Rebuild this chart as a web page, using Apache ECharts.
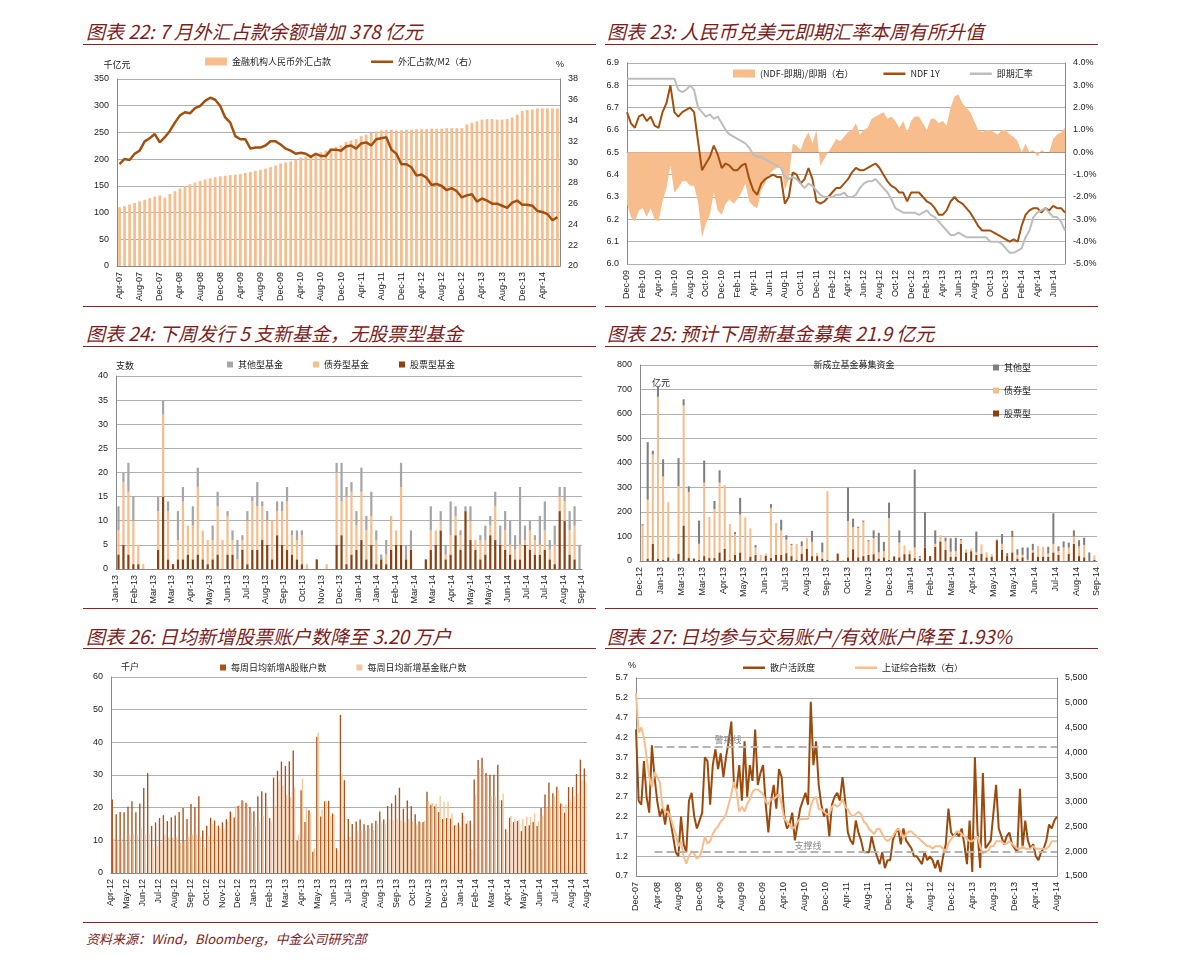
<!DOCTYPE html>
<html>
<head>
<meta charset="utf-8">
<script src="https://cdn.jsdelivr.net/npm/echarts@6/dist/echarts.min.js"></script>
<style>
body { margin: 0; background: #fff; font-family: "Liberation Sans", "Noto Sans CJK SC", sans-serif; }
.box { position: absolute; width: 512px; }
.ttl { position: absolute; font-family: "Noto Sans CJK SC", sans-serif; font-style: italic; font-size: 19px; color: #7a1d1d; white-space: nowrap; }
.rule { position: absolute; height: 1px; background: #8b2323; }
.src { position: absolute; left: 86px; top: 929px; font-family: "Noto Sans CJK SC", sans-serif; font-style: italic; font-size: 13px; color: #7a1d1d; }
</style>
</head>
<body>
<div class="ttl" style="left:86px;top:17px">图表 22: 7 月外汇占款余额增加 378 亿元</div>
<div class="ttl" style="left:607px;top:17px">图表 23: 人民币兑美元即期汇率本周有所升值</div>
<div class="ttl" style="left:86px;top:319px">图表 24: 下周发行 5 支新基金，无股票型基金</div>
<div class="ttl" style="left:607px;top:319px">图表 25: 预计下周新基金募集 21.9 亿元</div>
<div class="ttl" style="left:86px;top:622px">图表 26: 日均新增股票账户数降至 3.20 万户</div>
<div class="ttl" style="left:607px;top:622px">图表 27: 日均参与交易账户/有效账户降至 1.93%</div>
<div class="rule" style="left:83px;top:44px;width:513px"></div>
<div class="rule" style="left:605px;top:44px;width:493px"></div>
<div class="rule" style="left:83px;top:306px;width:513px"></div>
<div class="rule" style="left:605px;top:306px;width:493px"></div>
<div class="rule" style="left:83px;top:346px;width:513px"></div>
<div class="rule" style="left:605px;top:346px;width:493px"></div>
<div class="rule" style="left:83px;top:608px;width:513px"></div>
<div class="rule" style="left:605px;top:608px;width:493px"></div>
<div class="rule" style="left:83px;top:648px;width:513px"></div>
<div class="rule" style="left:605px;top:648px;width:493px"></div>
<div class="rule" style="left:83px;top:922px;width:1015px"></div>
<div class="src">资料来源：Wind，Bloomberg，中金公司研究部</div>

<div id="c1" class="box" style="left:85px;top:50px;height:258px"></div>
<div id="c2" class="box" style="left:598px;top:50px;height:258px"></div>
<div id="c3" class="box" style="left:85px;top:350px;height:258px"></div>
<div id="c4" class="box" style="left:598px;top:350px;height:258px"></div>
<div id="c5" class="box" style="left:85px;top:652px;height:268px"></div>
<div id="c6" class="box" style="left:598px;top:652px;height:268px"></div>

<script>
// ---- 图表22: monthly Apr-07 .. Jul-14
const fxLoans = [
    110, 112, 115, 118, 121, 124, 127, 130, 132,
    128, 135, 140, 145, 150, 153, 156, 159, 162, 164, 166, 168,
    169, 170, 171, 172, 174, 176, 178, 180, 182, 185, 188, 192,
    194, 196, 199, 203, 205, 207, 210, 213, 216, 220, 223, 226,
    232, 235, 238, 243, 246, 249, 252, 254, 255, 255, 254, 254,
    255, 255, 256, 256, 256, 257, 257, 257, 258, 258, 258, 258,
    265, 268, 271, 274, 275, 275, 274, 274, 275, 278, 283, 290,
    292, 293, 295, 295, 295, 295, 295
];
const fxToM2 = [
    29.8, 30.3, 30.2, 30.8, 31.1, 32.0, 32.3, 32.7, 31.9,
    32.4, 33.0, 33.8, 34.5, 34.8, 34.7, 35.2, 35.4, 35.9, 36.2, 36.0, 35.4,
    34.3, 33.8, 32.5, 32.2, 32.2, 31.3, 31.4, 31.4, 31.6, 32.0, 32.0, 31.7,
    31.3, 31.1, 30.8, 30.9, 30.8, 30.5, 30.8, 30.6, 30.6, 31.2, 31.2, 31.1,
    31.5, 31.6, 31.3, 31.8, 31.9, 31.6, 32.2, 32.3, 32.4, 31.2, 30.8, 29.8,
    29.8, 29.5, 28.7, 28.8, 28.5, 27.8, 27.9, 27.7, 27.3, 27.5, 27.2, 26.6,
    26.8, 26.9, 26.2, 26.5, 26.3, 26.0, 26.0, 25.8, 25.6, 26.1, 26.3, 25.9,
    25.9, 25.8, 25.3, 25.2, 25.0, 24.4, 24.7
];

// ---- 图表23: two points per month, Dec-09 .. Jul-14
const spotRate = [
    6.83, 6.83, 6.83, 6.83, 6.83, 6.83, 6.83, 6.83, 6.83, 6.83, 6.83, 6.83, 6.83, 6.78, 6.77, 6.78, 6.80, 6.78,
    6.70, 6.68, 6.66, 6.67, 6.65, 6.66, 6.63, 6.60,
    6.58, 6.57, 6.56, 6.55, 6.54, 6.52, 6.49, 6.48, 6.48, 6.47, 6.46, 6.45, 6.44, 6.43, 6.39, 6.38, 6.39, 6.38, 6.36, 6.34, 6.36, 6.35, 6.33, 6.31,
    6.30, 6.30, 6.30, 6.31, 6.31, 6.32, 6.30, 6.30, 6.31, 6.34, 6.36, 6.37, 6.37, 6.38, 6.36, 6.34, 6.32, 6.29, 6.25, 6.24, 6.23, 6.23, 6.23, 6.23,
    6.22, 6.23, 6.24, 6.22, 6.21, 6.19, 6.17, 6.15, 6.13, 6.13, 6.14, 6.13, 6.12, 6.12, 6.12, 6.12, 6.12, 6.12, 6.10, 6.10, 6.10, 6.09, 6.07, 6.05,
    6.05, 6.06, 6.07, 6.12, 6.15, 6.21, 6.23, 6.24, 6.25, 6.23, 6.21, 6.21, 6.19, 6.15
];
const ndf1y = [
    6.68, 6.63, 6.61, 6.66, 6.67, 6.64, 6.66, 6.62, 6.61, 6.68, 6.72, 6.80, 6.68, 6.66, 6.68, 6.69, 6.70, 6.68,
    6.55, 6.42, 6.45, 6.48, 6.53, 6.49, 6.43, 6.45,
    6.44, 6.42, 6.42, 6.44, 6.45, 6.38, 6.33, 6.31, 6.36, 6.38, 6.39, 6.40, 6.39, 6.39, 6.27, 6.30, 6.41, 6.40, 6.36, 6.38, 6.43, 6.38, 6.28, 6.27,
    6.28, 6.30, 6.32, 6.34, 6.34, 6.36, 6.38, 6.41, 6.43, 6.42, 6.42, 6.43, 6.44, 6.45, 6.43, 6.40, 6.37, 6.35, 6.34, 6.32, 6.32, 6.28, 6.32, 6.32,
    6.32, 6.30, 6.28, 6.27, 6.25, 6.22, 6.22, 6.24, 6.28, 6.30, 6.28, 6.27, 6.25, 6.23, 6.20, 6.17, 6.15, 6.15, 6.15, 6.14, 6.13, 6.12, 6.11, 6.10,
    6.11, 6.10, 6.17, 6.22, 6.24, 6.25, 6.25, 6.23, 6.25, 6.24, 6.26, 6.25, 6.25, 6.23
];
const ndfSpread = [
    -2.3, -2.9, -3.1, -2.6, -2.5, -2.9, -2.5, -3.0, -3.1, -2.2, -1.6, -0.6, -1.8, -1.6, -1.3, -1.3, -1.5, -1.5,
    -2.2, -3.8, -3.2, -2.8, -1.8, -2.6, -2.8, -2.3,
    -2.1, -2.3, -2.1, -1.8, -1.4, -2.2, -2.4, -2.5, -1.7, -1.4, -1.0, -0.8, -0.7, -0.6, -1.7, -1.2, 0.4, 0.3, 0.1, 0.6, 0.9, 0.4, 1.0, -0.6,
    -0.3, 0.0, 0.3, 0.6, 0.5, 0.7, 0.9, 1.0, 1.3, 0.8, 1.0, 1.1, 1.5, 1.6, 1.7, 1.8, 1.5, 1.6, 1.4, 1.1, 1.4, 0.9, 1.4, 1.6,
    1.6, 1.3, 1.0, 1.5, 1.5, 1.3, 1.4, 1.2, 2.0, 2.5, 2.6, 2.2, 2.0, 1.8, 1.4, 1.0, 0.9, 1.0, 1.0, 0.9, 0.8, 1.0, 1.0, 0.8,
    0.7, 0.5, 0.0, 0.4, 0.0, 0.1, -0.2, 0.1, 0.0, 0.0, 0.6, 0.8, 0.9, 1.1
];

// ---- 图表24: weekly number of new funds
const fundStock = [3,5,3,1,1,0,0,0,4,15,2,1,2,2,3,2,3,2,1,2,3,0,3,3,0,4,1,4,4,6,5,2,7,5,4,3,2,1,0,0,2,0,0,0,5,7,1,3,4,6,2,5,1,2,1,4,5,5,2,4,0,0,2,4,5,8,2,3,7,4,12,6,4,2,3,7,6,5,4,3,2,2,5,4,3,3,4,2,1,12,10,3,2,0];
const fundBond = [5,13,13,9,4,1,0,0,8,17,10,0,4,12,6,7,14,6,5,4,10,6,8,3,2,2,9,10,9,7,5,8,5,7,10,4,4,6,1,0,0,0,1,0,15,7,14,13,5,10,6,6,5,0,2,7,3,12,0,0,0,0,0,4,3,2,1,4,4,3,0,4,2,4,3,2,7,0,4,2,2,3,1,4,3,2,4,2,4,3,4,5,7,0];
const fundOther = [5,2,6,5,0,0,0,0,3,3,2,0,6,3,0,4,4,0,0,3,3,0,1,2,4,1,2,1,5,1,2,0,2,2,3,1,2,1,0,0,0,0,0,0,2,8,2,2,3,5,3,5,2,1,3,0,0,5,3,4,0,0,0,5,0,2,2,7,2,1,1,3,0,1,3,2,3,4,4,5,3,12,3,2,1,6,6,2,4,2,3,4,4,5];
const fundTicks = ['Jan-13','Feb-13','Mar-13','Mar-13','Apr-13','May-13','Jun-13','Jul-13','Aug-13','Sep-13','Oct-13','Nov-13','Dec-13','Jan-14','Jan-14','Feb-14','Mar-14','Mar-14','Apr-14','May-14','May-14','Jun-14','Jul-14','Jul-14','Aug-14','Sep-14'];

// ---- 图表25: weekly raised amount (亿元)
const raiseStock = [0,10,70,10,5,15,0,30,145,12,10,5,20,12,12,35,50,5,25,35,0,18,25,0,22,12,25,25,32,20,5,30,50,20,20,10,5,0,30,0,15,48,15,20,25,28,10,15,5,18,15,28,28,12,10,55,20,58,80,45,18,18,70,35,40,25,30,15,18,85,45,22,35,10,15,0,35,18,18,18,35,25,0,30,70,20,15,0,5];
const raiseBond = [145,240,365,660,340,225,10,275,490,270,0,65,300,168,200,285,260,145,85,155,178,115,30,25,8,205,130,100,55,45,65,30,45,58,13,25,280,5,0,5,148,90,120,140,55,65,25,25,170,0,60,35,15,43,5,0,0,12,25,35,20,22,15,12,10,10,38,20,10,5,25,0,63,15,10,5,10,43,40,12,35,15,55,25,30,40,50,0,18];
const raiseOther = [5,235,15,45,70,0,0,115,25,23,0,95,90,0,33,50,0,0,8,68,0,0,10,0,0,15,0,43,18,5,0,20,0,45,0,40,0,0,0,0,137,35,5,5,5,32,80,38,63,2,50,0,0,318,5,145,0,55,0,15,55,55,5,0,0,85,0,0,0,0,40,10,25,23,30,50,25,0,0,28,125,20,25,20,25,25,30,35,0];
const raiseTicks = ['Dec-12','Jan-13','Mar-13','Mar-13','Apr-13','May-13','Jun-13','Jul-13','Aug-13','Sep-13','Oct-13','Nov-13','Dec-13','Jan-14','Feb-14','Mar-14','Apr-14','May-14','May-14','Jun-14','Jul-14','Aug-14','Sep-14'];

// ---- 图表26: weekly daily-average new accounts (千户)
const newStockAcc = [22.5,18,18.7,18.6,20.3,22,18.6,21.3,26,30.6,14.4,15.5,16.8,17.7,15.9,17.1,17.6,18.7,19.9,16.5,21.1,20.1,23.5,13,14.5,16.9,16.1,14.5,15.5,16.5,18.8,17,20.5,22.3,21.5,20.2,18.9,23.5,25,24.6,16.8,29.2,31.3,34.1,32.8,34.2,37.5,9.8,25.3,15.6,19.2,6.5,41.7,17.3,22,22.1,18.2,7.6,48.4,28.4,16.5,15,15.8,16.4,14.9,14.7,15.2,16,18.8,16.4,20.5,21.3,23.8,26.1,19.7,22.2,20.4,18,15.8,15.6,24.9,20.9,20.4,18.7,16.5,16.8,16.7,14.6,15.4,18.4,15.1,16,28.6,34.6,35.3,30.6,30.1,30.1,33.1,22.3,13.4,16.9,15.6,15.9,12.8,14.4,14.6,15.6,14.4,19.9,24,27.7,24.4,26.4,21.3,18.5,26.3,26.3,30.3,34.7,32];
const newFundAcc = [10.5,10.1,10.3,10,11.5,12,11.8,13.7,12,12.2,7.7,8.2,9.5,11.8,10.8,10.7,10.9,9.3,9.8,11.1,11.8,11.8,11,8,11.4,15,14.5,13.8,13.5,15.8,18.5,20.5,20.8,22.1,21,18.5,14.2,15.5,17.5,19.9,15.8,20.5,28.3,26.8,24,23.2,26.1,11.8,28.9,19.9,18.5,7.6,42.9,19.5,21.9,17.5,17.9,6.9,30.4,10,11,10,12.9,12.8,12.9,13.5,13,15,15.5,15,16.5,16.3,16.7,16.1,15.5,16.6,15.7,14.9,15.5,16,22,21.5,21.3,23.5,21.8,21.9,18.2,14.7,14,17.5,16.1,7.3,24,32.2,32,29.5,23.5,23.4,22.5,24.3,12.5,17.5,16.6,16.3,16.5,17.2,17.1,18.3,15.8,17.7,20,20.5,23.4,25.4,21,21,22.4,23.6,24.3,28.3,28];
const accTicks = ['Apr-12','May-12','Jun-12','Jul-12','Aug-12','Sep-12','Oct-12','Nov-12','Dec-12','Jan-13','Feb-13','Mar-13','Apr-13','May-13','Jun-13','Jul-13','Aug-13','Aug-13','Sep-13','Oct-13','Nov-13','Dec-13','Jan-14','Feb-14','Mar-14','Apr-14','May-14','Jun-14','Jul-14','Aug-14','Aug-14'];

// ---- 图表27: two points per month, Jan-08 .. Aug-14
const activity = [
    4.4,2.6,2.5,3.6,2.7,2.3,4.0,3.2,2.6,2.2,2.4,2.0,2.5,2.1,1.7,1.3,1.2,2.2,1.5,1.3,2.6,2.8,2.2,1.9,
    2.1,2.3,3.7,3.6,2.5,3.5,3.9,3.4,3.8,3.2,3.7,4.1,4.6,3.0,2.9,3.5,2.6,4.1,2.7,3.5,3.1,4.4,3.0,3.3,
    3.5,2.5,1.8,2.6,3.0,2.4,3.4,3.2,2.2,1.9,2.0,2.3,1.6,2.0,2.4,2.6,2.8,2.5,5.1,3.5,4.1,3.0,2.5,2.2,
    2.4,1.7,2.5,2.7,2.8,2.6,3.2,2.6,1.8,1.6,1.5,2.1,1.8,1.6,1.3,1.3,1.3,1.7,1.4,1.2,1.0,1.3,0.9,1.1,
    1.1,1.6,1.8,1.9,1.5,1.9,1.6,1.5,1.4,1.2,1.2,1.1,1.0,1.3,1.1,1.2,1.1,0.9,1.1,0.8,1.2,1.5,2.4,1.8,
    1.7,1.8,1.7,1.9,1.5,1.0,2.1,0.8,3.7,1.8,0.9,3.3,1.4,1.5,1.6,2.3,3.0,1.9,1.7,1.5,1.7,1.8,1.5,1.4,
    1.3,2.9,1.4,2.1,1.6,1.4,1.5,1.2,1.1,1.3,1.4,1.6,2.0,1.9,2.1,2.2
];
const shIndex = [
    5200,4400,4500,4300,3900,3500,3300,3600,3500,3400,2900,2800,2800,2700,2500,2350,2100,2200,1900,1750,1900,2000,1950,1850,
    1900,2050,2300,2150,2200,2350,2450,2500,2600,2650,2750,2950,3150,3400,3200,2800,2900,2800,2950,3050,3200,3250,3250,3200,
    3150,3000,2950,3050,3050,3100,3150,2950,2650,2600,2550,2450,2500,2600,2650,2650,2650,2650,2900,3050,3100,2850,2850,2800,
    2750,2750,2900,2950,2900,2950,3050,2900,2850,2750,2700,2750,2800,2750,2600,2550,2450,2400,2350,2450,2450,2350,2250,2200,
    2250,2300,2400,2450,2400,2250,2350,2400,2400,2350,2300,2250,2200,2150,2100,2100,2050,2100,2100,2100,2050,2000,2150,2250,
    2300,2400,2400,2350,2300,2250,2200,2200,2250,2300,2100,1950,2000,2000,2100,2100,2200,2200,2200,2150,2150,2200,2150,2100,
    2050,2050,2100,2050,2050,2050,2100,2050,2050,2050,2050,2050,2100,2200,2200,2200
];
const activityTicks = ['Dec-07','Apr-08','Aug-08','Dec-08','Apr-09','Aug-09','Dec-09','Apr-10','Aug-10','Dec-10','Apr-11','Aug-11','Dec-11','Apr-12','Aug-12','Dec-12','Apr-13','Aug-13','Dec-13','Apr-14','Aug-14'];

const MON = ['Jan','Feb','Mar','Apr','May','Jun','Jul','Aug','Sep','Oct','Nov','Dec'];
const monthCats = (m, y, n, per) => {
    let out = [];
    for (let i = 0; i < n; i++) {
        for (let k = 0; k < per; k++) out.push(MON[m] + '-' + String(y).padStart(2, '0'));
        m++;
        if (m === 12) { m = 0; y++; }
    }
    return out;
};

const BROWN = '#a3500f';
const PEACH = '#f8bd8c';
const GREY = '#a6a6a6';
// thick line icon for legend, padded so it keeps a thin look inside an 8px high box
const LINE_ICON = 'path://M0,0h0.01v0.01H0zM0,3h22v2.6H0zM21.99,8h0.01v0.01h-0.01z';
const txt = { color: '#222', fontSize: 9, fontFamily: 'Liberation Sans' };
const cjk = { color: '#222', fontSize: 9, fontFamily: 'Noto Sans CJK SC' };
const split = { show: true, lineStyle: { color: '#b0b0b0', width: 1 } };
const axLine = { show: true, lineStyle: { color: '#888' } };

const valAxis = (min, max, interval, extra) => Object.assign({
    type: 'value', min, max, interval,
    axisLine: axLine, axisTick: { show: false },
    axisLabel: Object.assign({}, txt), splitLine: split
}, extra || {});

const labelAxis = (ticks) => ({
    type: 'category', data: ticks, boundaryGap: false, position: 'bottom',
    axisLine: { show: false }, axisTick: { show: false },
    axisLabel: Object.assign({ rotate: 90, interval: 0, margin: 6 }, txt)
});

const catAxis = (n) => ({
    type: 'category', data: Array.from({ length: n }, (_, i) => i),
    axisLine: axLine, axisTick: { show: false }, axisLabel: { show: false }
});

const draw = (id, option) => {
    const dom = document.getElementById(id);
    echarts.dispose(dom);
    const chart = echarts.init(dom, null, { renderer: 'canvas' });
    chart.setOption(Object.assign({ animation: false }, option));
};

// 图表22
draw('c1', {
    grid: { left: 32, right: 37, top: 29, bottom: 42 },
    legend: {
        top: 2, left: 'center', itemGap: 40, textStyle: cjk, itemHeight: 8, itemWidth: 22,
        data: [{ name: '金融机构人民币外汇占款', icon: 'rect' }, { name: '外汇占款/M2（右）', icon: LINE_ICON }]
    },
    xAxis: {
        type: 'category', data: monthCats(3, 7, fxLoans.length, 1),
        axisLine: axLine, axisTick: { show: false },
        axisLabel: Object.assign({ rotate: 90, interval: 3, margin: 6 }, txt)
    },
    yAxis: [
        valAxis(0, 350, 50, { name: '千亿元', nameTextStyle: cjk, nameGap: 10 }),
        valAxis(20, 38, 2, { splitLine: { show: false }, name: '%', nameTextStyle: txt, nameGap: 10 })
    ],
    series: [
        { name: '金融机构人民币外汇占款', type: 'bar', data: fxLoans, barWidth: '55%', itemStyle: { color: PEACH } },
        { name: '外汇占款/M2（右）', type: 'line', yAxisIndex: 1, data: fxToM2, symbol: 'none', lineStyle: { color: BROWN, width: 2.5 }, itemStyle: { color: BROWN } }
    ]
});

// 图表23
draw('c2', {
    grid: { left: 29, right: 45, top: 13, bottom: 44 },
    legend: {
        top: 14, left: 130, itemGap: 30, textStyle: cjk, itemHeight: 8, itemWidth: 22,
        data: [{ name: '(NDF-即期)/即期（右）', icon: 'rect' }, { name: 'NDF 1Y', icon: LINE_ICON }, { name: '即期汇率', icon: LINE_ICON }]
    },
    xAxis: {
        type: 'category', data: monthCats(11, 9, spotRate.length / 2, 2), boundaryGap: false,
        axisLine: axLine, axisTick: { show: false },
        axisLabel: Object.assign({ rotate: 90, interval: 3, margin: 6 }, txt)
    },
    yAxis: [
        valAxis(6.0, 6.9, 0.1, { axisLabel: Object.assign({ formatter: v => v.toFixed(1) }, txt) }),
        valAxis(-5, 4, 1, { splitLine: { show: false }, axisLabel: Object.assign({ formatter: v => v.toFixed(1) + '%' }, txt) })
    ],
    series: [
        { name: '(NDF-即期)/即期（右）', type: 'line', yAxisIndex: 1, data: ndfSpread, symbol: 'none', lineStyle: { width: 0 }, areaStyle: { color: PEACH, opacity: 1 }, itemStyle: { color: PEACH } },
        { name: 'NDF 1Y', type: 'line', data: ndf1y, symbol: 'none', lineStyle: { color: BROWN, width: 2 }, itemStyle: { color: BROWN } },
        { name: '即期汇率', type: 'line', data: spotRate, symbol: 'none', lineStyle: { color: '#bdbdbd', width: 2 }, itemStyle: { color: '#bdbdbd' } }
    ]
});

// 图表24
draw('c3', {
    grid: { left: 31, right: 15, top: 26, bottom: 39 },
    legend: {
        top: 5, left: 'center', itemGap: 30, textStyle: cjk, itemHeight: 6, itemWidth: 6, icon: 'rect',
        data: ['其他型基金', '债券型基金', '股票型基金']
    },
    xAxis: [catAxis(fundStock.length), labelAxis(fundTicks)],
    yAxis: valAxis(0, 40, 5, { name: '支数', nameTextStyle: Object.assign({ align: 'left', padding: [0, 0, 0, 0] }, cjk), nameGap: 6 }),
    series: [
        { name: '股票型基金', type: 'bar', stack: 'a', data: fundStock, barWidth: '45%', itemStyle: { color: '#8f3f0c' } },
        { name: '债券型基金', type: 'bar', stack: 'a', data: fundBond, itemStyle: { color: PEACH } },
        { name: '其他型基金', type: 'bar', stack: 'a', data: fundOther, itemStyle: { color: GREY } }
    ]
});

// 图表25
draw('c4', {
    title: { text: '新成立基金募集资金', left: 'center', top: 5, textStyle: Object.assign({ fontWeight: 'normal' }, cjk) },
    grid: { left: 42, right: 13, top: 15, bottom: 47 },
    legend: {
        top: 8, left: 390, orient: 'vertical', itemGap: 14, textStyle: cjk, itemHeight: 6, itemWidth: 6, icon: 'rect',
        data: ['其他型', '债券型', '股票型']
    },
    xAxis: [catAxis(raiseStock.length), labelAxis(raiseTicks)],
    yAxis: valAxis(0, 800, 100, { name: '亿元', nameLocation: 'end', nameTextStyle: Object.assign({ align: 'left', padding: [0, 0, -22, 12] }, cjk), nameGap: 0 }),
    series: [
        { name: '股票型', type: 'bar', stack: 'a', data: raiseStock, barWidth: '40%', itemStyle: { color: '#8f3f0c' } },
        { name: '债券型', type: 'bar', stack: 'a', data: raiseBond, itemStyle: { color: PEACH } },
        { name: '其他型', type: 'bar', stack: 'a', data: raiseOther, itemStyle: { color: '#7f7f7f' } }
    ]
});

// 图表26
draw('c5', {
    grid: { left: 26, right: 10, top: 25, bottom: 47 },
    legend: {
        top: 6, left: 130, itemGap: 30, textStyle: cjk, itemHeight: 6, itemWidth: 6, icon: 'rect',
        data: ['每周日均新增A股账户数', '每周日均新增基金账户数']
    },
    xAxis: [catAxis(newStockAcc.length), labelAxis(accTicks)],
    yAxis: valAxis(0, 60, 10, { name: '千户', nameTextStyle: Object.assign({ align: 'left', padding: [0, 0, 0, 10] }, cjk), nameGap: 6 }),
    series: [
        { name: '每周日均新增A股账户数', type: 'bar', data: newStockAcc, barWidth: '35%', barGap: '0%', itemStyle: { color: '#a9531d' } },
        { name: '每周日均新增基金账户数', type: 'bar', data: newFundAcc, barWidth: '35%', itemStyle: { color: '#f7c69b' } }
    ]
});

// 图表27
const warnLine = 3.97;
const supportLine = 1.31;
draw('c6', {
    grid: { left: 38, right: 53, top: 26, bottom: 44 },
    legend: {
        top: 6, left: 140, itemGap: 40, textStyle: cjk, itemHeight: 8, itemWidth: 22,
        data: [{ name: '散户活跃度', icon: LINE_ICON }, { name: '上证综合指数（右）', icon: LINE_ICON }]
    },
    xAxis: [
        Object.assign(catAxis(activity.length), { boundaryGap: false }),
        labelAxis(activityTicks)
    ],
    yAxis: [
        valAxis(0.7, 5.7, 0.5, { name: '%', nameTextStyle: Object.assign({ align: 'right' }, txt), nameGap: 8, axisLabel: Object.assign({ formatter: v => v.toFixed(1) }, txt) }),
        valAxis(1500, 5500, 500, { splitLine: { show: false }, axisLabel: Object.assign({ formatter: v => v.toLocaleString('en-US') }, txt) })
    ],
    series: [
        {
            name: '散户活跃度', type: 'line', data: activity, symbol: 'none', lineStyle: { color: '#9c4a0c', width: 2 }, itemStyle: { color: '#9c4a0c' },
            markLine: {
                symbol: ['none', 'none'], silent: true,
                lineStyle: { color: '#b5b5b5', type: 'dashed', width: 2 },
                label: { show: true, position: 'middle', color: '#888', fontSize: 9, fontFamily: 'Noto Sans CJK SC', distance: 2 },
                data: [
                    [{ coord: [7, warnLine], name: '警戒线', label: { position: 'insideStartTop', distance: [60, 2] } }, { coord: [activity.length - 1, warnLine] }],
                    [{ coord: [7, supportLine], name: '支撑线', label: { position: 'insideStartTop', distance: [140, 2] } }, { coord: [activity.length - 1, supportLine] }]
                ]
            }
        },
        { name: '上证综合指数（右）', type: 'line', yAxisIndex: 1, data: shIndex, symbol: 'none', lineStyle: { color: PEACH, width: 2 }, itemStyle: { color: PEACH } }
    ]
});
</script>
</body>
</html>
